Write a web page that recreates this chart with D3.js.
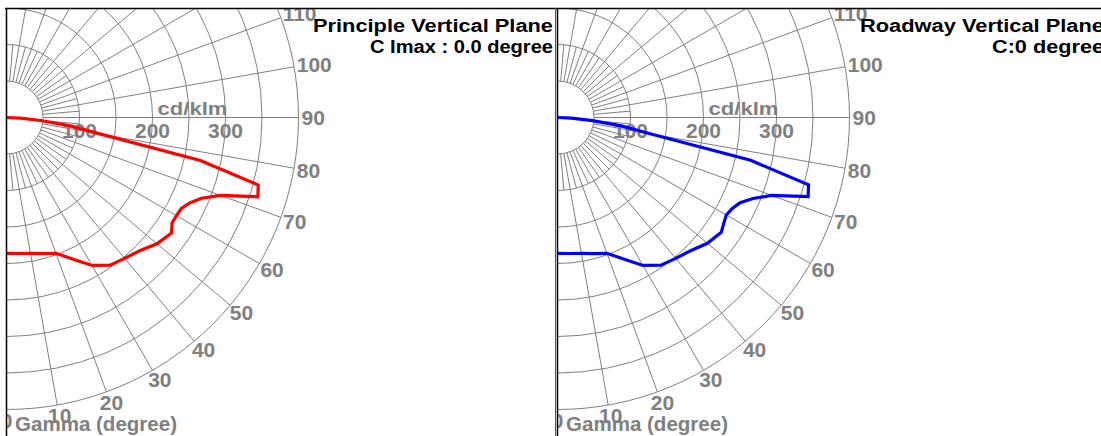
<!DOCTYPE html>
<html><head><meta charset="utf-8">
<script src="https://cdn.jsdelivr.net/npm/d3@7"></script>
<style>html,body{margin:0;padding:0;background:#fff;overflow:hidden}</style>
</head><body>
<svg id="chart" width="1101" height="436"></svg>
<script>
// ---------- data ----------
const gammaDeg     = [0, 5, 10, 15, 20, 25, 30, 35, 40, 45, 50, 55, 57.5, 60, 62.5, 65, 67.5, 70, 72.5, 75, 77.5, 80, 82.5, 85, 87.5, 90];
const principleCd  = [186, 187, 189, 193, 198, 214, 234, 247, 252, 258, 269, 276, 269, 269, 270, 277, 289, 312, 361, 357, 272, 131, 88, 47, 19, 0];
const roadwayCd    = [186, 187, 189, 193, 198, 214, 234, 247, 252, 258, 268, 274, 270, 267, 270, 276, 290, 312, 360, 356, 271, 130, 88, 48, 19, 0];
const gridCircles  = [50, 100, 150, 200, 250, 300, 350, 400];
const majorSpokes  = [0, 10, 20, 30, 40, 50, 60, 70, 80, 90, 100, 110, 120, 130, 140, 150, 160, 170, 180];
const minorSpokes  = [5, 15, 25, 35, 45, 55, 65, 75, 85, 95, 105, 115, 125, 135, 145, 155, 165, 175];
const gammaTicks   = ["0", "10", "20", "30", "40", "50", "60", "70", "80", "90", "100", "110"];
const cdTicks      = ["100", "200", "300"];
const panelTitles  = ["Principle Vertical Plane", "Roadway Vertical Plane"];
const panelSubs    = ["C Imax : 0.0 degree", "C:0 degree"];
const curveColors  = ["#ff0000", "#0000ff"];
const curveData    = [principleCd, roadwayCd];

// ---------- layout ----------
const svg = d3.select("#chart");
const FONT = "'Liberation Sans', Arial, sans-serif";
const GRAY = "#808080";
const panels = [
  {x0: 6, right: 556, textRight: 553, titleLen: 240, subLen: 183},
  {x0: 557, right: 1107, textRight: 1104, titleLen: 244, subLen: 112}
];
const cy = 117.5;
const r = d3.scaleLinear().domain([0, 400]).range([0, 292]);
const rad = d => d * Math.PI / 180;

panels.forEach((p, i) => {
  const cx = p.x0 + 0.5;
  const clipId = "clip" + i;
  svg.append("clipPath").attr("id", clipId)
    .append("rect").attr("x", p.x0).attr("y", 8).attr("width", p.right - p.x0).attr("height", 440);
  const g = svg.append("g").attr("clip-path", `url(#${clipId})`);
  const grid = g.append("g").attr("transform", `translate(${cx},${cy})`);

  // circles
  grid.selectAll("circle").data(gridCircles).join("circle")
    .attr("r", d => r(d)).attr("fill", "none").attr("stroke", GRAY).attr("stroke-width", 1);

  // spokes (gamma 0 = down, 90 = right)
  grid.selectAll("line.major").data(majorSpokes).join("line").attr("class", "major")
    .attr("x1", d => r(50) * Math.sin(rad(d))).attr("y1", d => r(50) * Math.cos(rad(d)))
    .attr("x2", d => r(400) * Math.sin(rad(d))).attr("y2", d => r(400) * Math.cos(rad(d)))
    .attr("stroke", GRAY).attr("stroke-width", 1);
  grid.selectAll("line.minor").data(minorSpokes).join("line").attr("class", "minor")
    .attr("x1", d => r(50) * Math.sin(rad(d))).attr("y1", d => r(50) * Math.cos(rad(d)))
    .attr("x2", d => r(100) * Math.sin(rad(d))).attr("y2", d => r(100) * Math.cos(rad(d)))
    .attr("stroke", GRAY).attr("stroke-width", 1);

  // horizontal cd ticks
  grid.selectAll("text.cd").data(cdTicks).join("text").attr("class", "cd")
    .attr("x", d => r(+d)).attr("y", 20)
    .attr("text-anchor", "middle").attr("font-family", FONT).attr("font-weight", "bold")
    .attr("font-size", 21).attr("fill", GRAY).text(d => d);
  grid.append("text").attr("x", 151).attr("y", -2.5)
    .attr("font-family", FONT).attr("font-weight", "bold").attr("font-size", 18)
    .attr("fill", GRAY).attr("textLength", 70).attr("lengthAdjust", "spacingAndGlyphs").text("cd/klm");

  // gamma labels around the outer circle
  gammaTicks.forEach(lbl => {
    const a = rad(+lbl);
    const px = r(400) * Math.sin(a), py = r(400) * Math.cos(a);
    const t = grid.append("text").text(lbl)
      .attr("font-family", FONT).attr("font-weight", "bold").attr("font-size", 21).attr("fill", GRAY)
      .attr("text-anchor", "middle").attr("dominant-baseline", "central");
    const w = t.node().getComputedTextLength();
    t.attr("x", px + (w / 2 + 3) * Math.sin(a)).attr("y", py + 11 * Math.cos(a));
  });

  // curve
  const line = d3.lineRadial()
    .angle((d, j) => Math.PI - rad(gammaDeg[j]))
    .radius(d => r(d));
  grid.append("path").datum(curveData[i]).attr("d", line)
    .attr("fill", "none").attr("stroke", curveColors[i]).attr("stroke-width", 3.2)
    .attr("stroke-linejoin", "miter");

  // axis title
  g.append("text").attr("x", p.x0 + 9).attr("y", 431)
    .attr("font-family", FONT).attr("font-weight", "bold").attr("font-size", 20).attr("fill", GRAY)
    .attr("textLength", 162).attr("lengthAdjust", "spacingAndGlyphs").text("Gamma (degree)");

  // titles
  svg.append("text").attr("x", p.textRight).attr("y", 32).attr("text-anchor", "end")
    .attr("font-family", FONT).attr("font-weight", "bold").attr("font-size", 18).attr("fill", "#000")
    .attr("textLength", p.titleLen).attr("lengthAdjust", "spacingAndGlyphs").text(panelTitles[i]);
  svg.append("text").attr("x", p.textRight).attr("y", 53).attr("text-anchor", "end")
    .attr("font-family", FONT).attr("font-weight", "bold").attr("font-size", 18).attr("fill", "#000")
    .attr("textLength", p.subLen).attr("lengthAdjust", "spacingAndGlyphs").text(panelSubs[i]);

  // frame
  svg.append("line").attr("x1", p.x0 + 0.5).attr("x2", p.x0 + 0.5).attr("y1", 8).attr("y2", 436)
    .attr("stroke", "#000").attr("stroke-width", 1.5);
});
// top border and left panel right edge
svg.append("line").attr("x1", 5).attr("x2", 1101).attr("y1", 8.5).attr("y2", 8.5).attr("stroke", "#000").attr("stroke-width", 1.5);
svg.append("line").attr("x1", 555.5).attr("x2", 555.5).attr("y1", 8).attr("y2", 436).attr("stroke", "#555").attr("stroke-width", 1);
</script>
</body></html>
